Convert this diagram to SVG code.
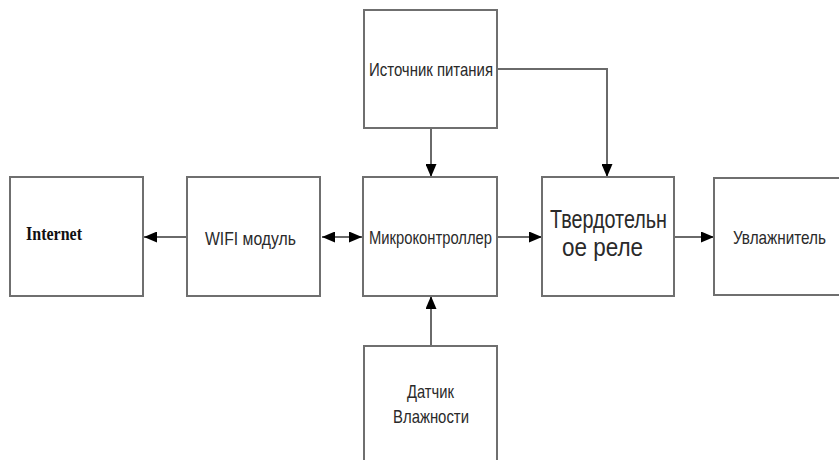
<svg xmlns="http://www.w3.org/2000/svg" width="839" height="460" viewBox="0 0 839 460">
<defs>
<style>
.box{fill:#fff;stroke:#6f6f6f;stroke-width:2}
.ln{fill:none;stroke:#6a6a6a;stroke-width:2}
.t{font-family:"Liberation Sans Narrow","Liberation Sans",Arial,sans-serif;fill:#2a2a2a;font-size:18.5px}
.big{font-size:26px}
.serif{font-family:"Liberation Serif","Times New Roman",serif;font-weight:bold;font-size:19px;fill:#111}
</style>
<marker id="ah" viewBox="0 0 13 11" refX="13" refY="5.5" markerWidth="13" markerHeight="11" markerUnits="userSpaceOnUse" orient="auto-start-reverse">
<path d="M0,0 L13,5.5 L0,11 Z" fill="#000"/>
</marker>
</defs>
<rect width="839" height="460" fill="#fff"/>
<g id="connectors">
<line class="ln" x1="187" y1="237" x2="144" y2="237" marker-end="url(#ah)"/>
<line class="ln" x1="322" y1="237" x2="362" y2="237" marker-start="url(#ah)" marker-end="url(#ah)"/>
<line class="ln" x1="431" y1="128" x2="431" y2="177" marker-end="url(#ah)"/>
<polyline class="ln" points="497,69 607,69 607,177" marker-end="url(#ah)"/>
<line class="ln" x1="497" y1="237" x2="542" y2="237" marker-end="url(#ah)"/>
<line class="ln" x1="674" y1="237" x2="714" y2="237" marker-end="url(#ah)"/>
<line class="ln" x1="431" y1="346" x2="431" y2="296" marker-end="url(#ah)"/>
</g>
<g id="internet">
<rect class="box" x="10" y="177" width="133" height="119"/>
<text class="serif" x="26" y="240" textLength="56" lengthAdjust="spacingAndGlyphs">Internet</text>
</g>
<g id="wifi">
<rect class="box" x="187" y="177" width="133" height="119"/>
<text class="t" x="205" y="245" textLength="91" lengthAdjust="spacingAndGlyphs">WIFI модуль</text>
</g>
<g id="source">
<rect class="box" x="364" y="10" width="133" height="118"/>
<text class="t" x="369" y="76" textLength="124" lengthAdjust="spacingAndGlyphs">Источник питания</text>
</g>
<g id="mcu">
<rect class="box" x="363" y="177" width="134" height="119"/>
<text class="t" x="369" y="244" textLength="123" lengthAdjust="spacingAndGlyphs">Микроконтроллер</text>
</g>
<g id="relay">
<rect class="box" x="542" y="177" width="132" height="119"/>
<text class="t big" x="550" y="228" textLength="117" lengthAdjust="spacingAndGlyphs">Твердотельн</text>
<text class="t big" x="562" y="256" textLength="81" lengthAdjust="spacingAndGlyphs">ое реле</text>
</g>
<g id="humidifier">
<rect class="box" x="714" y="178" width="140" height="117"/>
<text class="t" x="733" y="244" textLength="93" lengthAdjust="spacingAndGlyphs">Увлажнитель</text>
</g>
<g id="sensor">
<rect class="box" x="364" y="346" width="133" height="125"/>
<text class="t" x="407" y="398" textLength="47" lengthAdjust="spacingAndGlyphs">Датчик</text>
<text class="t" x="393" y="423" textLength="76" lengthAdjust="spacingAndGlyphs">Влажности</text>
</g>
</svg>
